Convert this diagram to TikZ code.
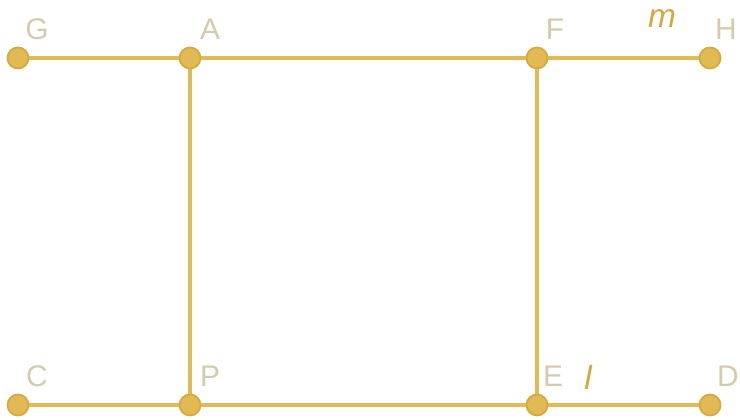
\documentclass[tikz,border=0pt]{standalone}
\usepackage{fontspec}
\setmainfont{Liberation Sans}
\usetikzlibrary{calc}

\definecolor{gold}{RGB}{226,186,84}
\definecolor{golddark}{RGB}{214,168,62}
\definecolor{tagtext}{RGB}{212,202,172}

\begin{document}
\begin{tikzpicture}[
  seg/.style={draw=gold,line width=1.2pt},
  vertex/.style={circle,fill=gold,draw=golddark,line width=0.5pt,inner sep=0pt,minimum size=0.21cm},
  tag/.style={font=\fontsize{8.5}{10}\selectfont,text=tagtext,inner sep=0pt},
  var/.style={font=\fontsize{9.5}{10}\selectfont\itshape,text=golddark,inner sep=0pt},
]
\useasboundingbox (0,0) rectangle (7.40,4.19);

% points
\node[vertex] (G) at (0.18,3.61) {};
\node[vertex] (A) at (1.90,3.61) {};
\node[vertex] (F) at (5.37,3.61) {};
\node[vertex] (H) at (7.10,3.61) {};
\node[vertex] (C) at (0.18,0.14) {};
\node[vertex] (P) at (1.90,0.14) {};
\node[vertex] (E) at (5.37,0.14) {};
\node[vertex] (D) at (7.10,0.14) {};

% lines
\draw[seg] (G) -- (A) -- (F) -- (H);
\draw[seg] (C) -- (P) -- (E) -- (D);
\draw[seg] (A) -- (P);
\draw[seg] (F) -- (E);

% letters
\node[tag] (tG) at (0.37,3.90) {G};
\node[tag] (tA) at (2.10,3.90) {A};
\node[tag] (tF) at (5.55,3.90) {F};
\node[tag] (tH) at (7.26,3.90) {H};
\node[tag] (tC) at (0.37,0.43) {C};
\node[tag] (tP) at (2.10,0.43) {P};
\node[tag] (tE) at (5.53,0.43) {E};
\node[tag] (tD) at (7.28,0.43) {D};
\node[var] (m) at (6.62,4.00) {m};
\node[var] (l) at (5.88,0.42) {l};

\end{tikzpicture}
\end{document}
